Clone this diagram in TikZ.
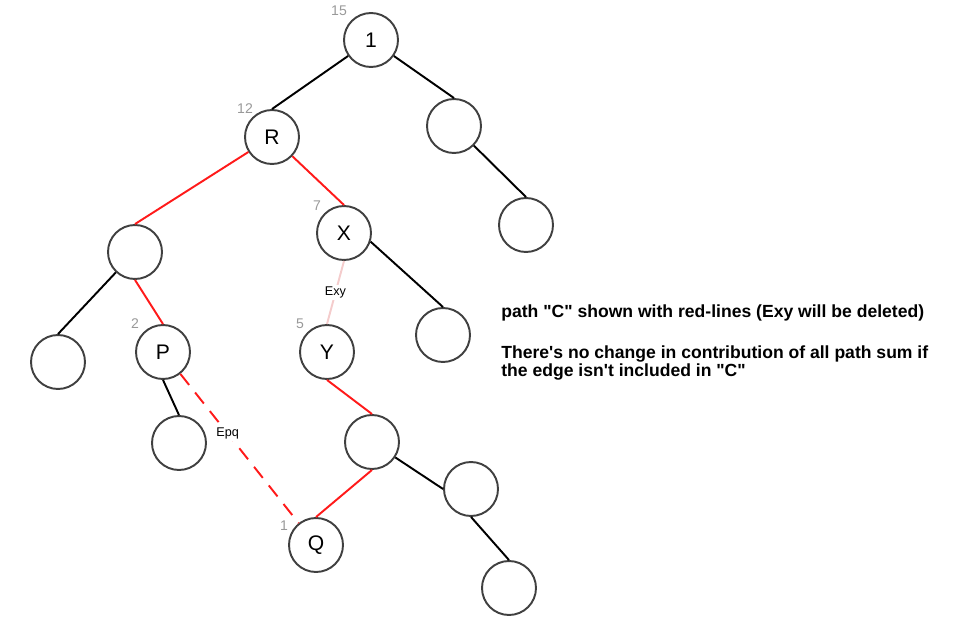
\documentclass[tikz,border=0pt]{standalone}
\usepackage{fontspec}
\setmainfont{Liberation Sans}[Ligatures=TeXOff]
\definecolor{ringgray}{HTML}{404040}
\definecolor{numgray}{HTML}{999999}
\definecolor{pathred}{HTML}{FF1A1A}
\definecolor{deleted}{HTML}{F4CCCC}
\tikzset{vertex/.style={draw=ringgray,line width=1.1pt,circle,fill=white,
                        minimum size=1.08cm,inner sep=0pt,font=\fontsize{12}{14}\selectfont}}
\tikzset{edge/.style={line width=1.1pt,black}}
\tikzset{redge/.style={edge,pathred}}
\tikzset{num/.style={text=numgray,inner sep=0pt,font=\fontsize{8}{9}\selectfont}}
\tikzset{elabel/.style={fill=white,text=black,inner sep=1pt,font=\fontsize{7.2}{8}\selectfont}}
\tikzset{note/.style={inner sep=0pt,anchor=west,align=left,
                      font=\bfseries\fontsize{10}{10.3}\selectfont}}

\begin{document}
\begin{tikzpicture}[x=0.02cm,y=-0.02cm]
    \useasboundingbox (0,0) rectangle (960,618);
    % Vertices
    \foreach \name/\x/\y/\txt in {top/371/40/1, R/272/137/R, a/454/126/, b/526/225/,
                                 c/135/252/, X/344/233/X, d/58/362/, P/163/352/P,
                                 e/443/335/, Y/327/352/Y, f/179/443/, g/372/442/,
                                 Q/316/545/Q, h/471/489/, i/509/588/}{%
          \node[vertex] (\name) at (\x,\y) {\txt};
        }
    % Edges
    \foreach \from/\to in {top/R,top/a,a/b,c/d}{%
          \draw[edge] (\from) -- (\to.north);
        }
    \foreach \from/\to in {P/f,h/i}{%
          \draw[edge] (\from.south) -- (\to.north);
        }
    \draw[edge] (X.-18) -- (e.north);
    \draw[edge] (g) -- (h.west);
    % Path C
    \foreach \from/\to in {R/c,R/X}{%
          \draw[redge] (\from) -- (\to.north);
        }
    \foreach \from/\to in {c/P,Y/g,g/Q}{%
          \draw[redge] (\from.south) -- (\to.north);
        }
    \draw[redge,deleted] (X.south) -- node[elabel] (exy) {Exy} (Y.north);
    \draw[redge,dash pattern=on 8pt off 5.5pt] (P) -- node[elabel,pos=0.4] (epq) {Epq} (Q);
    % Labels
    \foreach \x/\y/\n [count=\i] in {339/11/15, 245/109/12, 317/206/7,
                                     300/324/5, 135/324/2, 284/526/1}{%
          \node[num] (num\i) at (\x,\y) {\n};
        }
    \node[note] (note1) at (501,313) {path "C" shown with red-lines (Exy will be deleted)};
    \node[note] (note2) at (501,363) {There's no change in contribution of all path sum if\\
                                      the edge isn't included in "C"};
\end{tikzpicture}
\end{document}
